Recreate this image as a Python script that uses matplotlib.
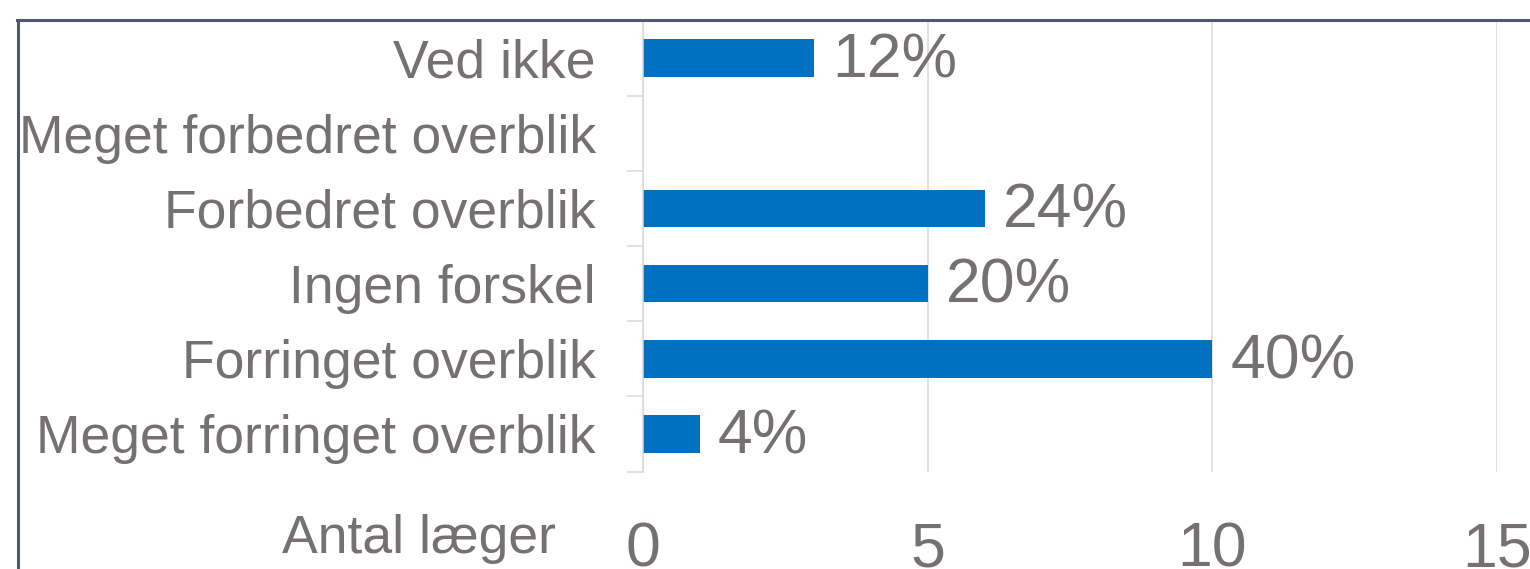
import matplotlib
matplotlib.use("Agg")
import matplotlib.pyplot as plt
from matplotlib.lines import Line2D

# Survey answers: number of doctors per response
categories = [
    "Ved ikke",
    "Meget forbedret overblik",
    "Forbedret overblik",
    "Ingen forskel",
    "Forringet overblik",
    "Meget forringet overblik",
]
counts = [3, 0, 6, 5, 10, 1]
x_ticks = [0, 5, 10, 15]
x_title = "Antal læger"

TEXT = "#767171"
BAR = "#0070c0"
GRID = "#d9d9d9"
FRAME = "#4d5a6e"

plt.rcParams["font.family"] = ["Liberation Sans", "DejaVu Sans"]

W, H = 1530, 569
fig = plt.figure(figsize=(W / 100, H / 100), dpi=100)

# plot area in pixel terms
left_px, right_px = 643, 1497
top_px, bottom_px = 20.4, 471.6
ax = fig.add_axes([left_px / W, (H - bottom_px) / H,
                   (right_px - left_px) / W, (bottom_px - top_px) / H])

ypos = list(range(len(categories)))
ax.barh(ypos, counts, height=0.5, color=BAR, zorder=3)

total = sum(counts)
for y, c in zip(ypos, counts):
    if c > 0:
        ax.annotate(f"{round(100 * c / total)}%", xy=(c, y),
                    xytext=(13, -2), textcoords="offset points",
                    va="center", ha="left", fontsize=45, color=TEXT)

ax.set_xlim(0, 15)
ax.set_ylim(len(categories) - 0.5, -0.5)

ax.set_xticks(x_ticks)
ax.set_xticklabels([str(t) for t in x_ticks])
ax.set_yticks(ypos)
ax.set_yticklabels(categories)
ax.set_yticks([i - 0.5 for i in range(len(categories) + 1)], minor=True)

ax.tick_params(axis="x", length=0, pad=35, labelsize=45, labelcolor=TEXT)
ax.tick_params(axis="y", which="major", length=0, pad=34, labelsize=38.5,
               labelcolor=TEXT)
ax.tick_params(axis="y", which="minor", length=11.5, width=1.1, color=GRID)

ax.grid(axis="x", color=GRID, linewidth=1.1, zorder=0)
for s in ("top", "right", "bottom"):
    ax.spines[s].set_visible(False)
ax.spines["left"].set_color(GRID)
ax.spines["left"].set_linewidth(1.1)
ax.spines["left"].set_zorder(4)

fig.text(556 / W, (H - 553) / H, x_title, ha="right", va="baseline",
         fontsize=38.5, color=TEXT)

# outer chart frame (top and left edges)
fig.add_artist(Line2D([18 / W, 18 / W], [0, (H - 19.5) / H],
                      transform=fig.transFigure, color=FRAME, linewidth=2.2))
fig.add_artist(Line2D([17 / W, 1], [(H - 19.5) / H, (H - 19.5) / H],
                      transform=fig.transFigure, color=FRAME, linewidth=2.2))

fig.savefig("out.png", dpi=100)
